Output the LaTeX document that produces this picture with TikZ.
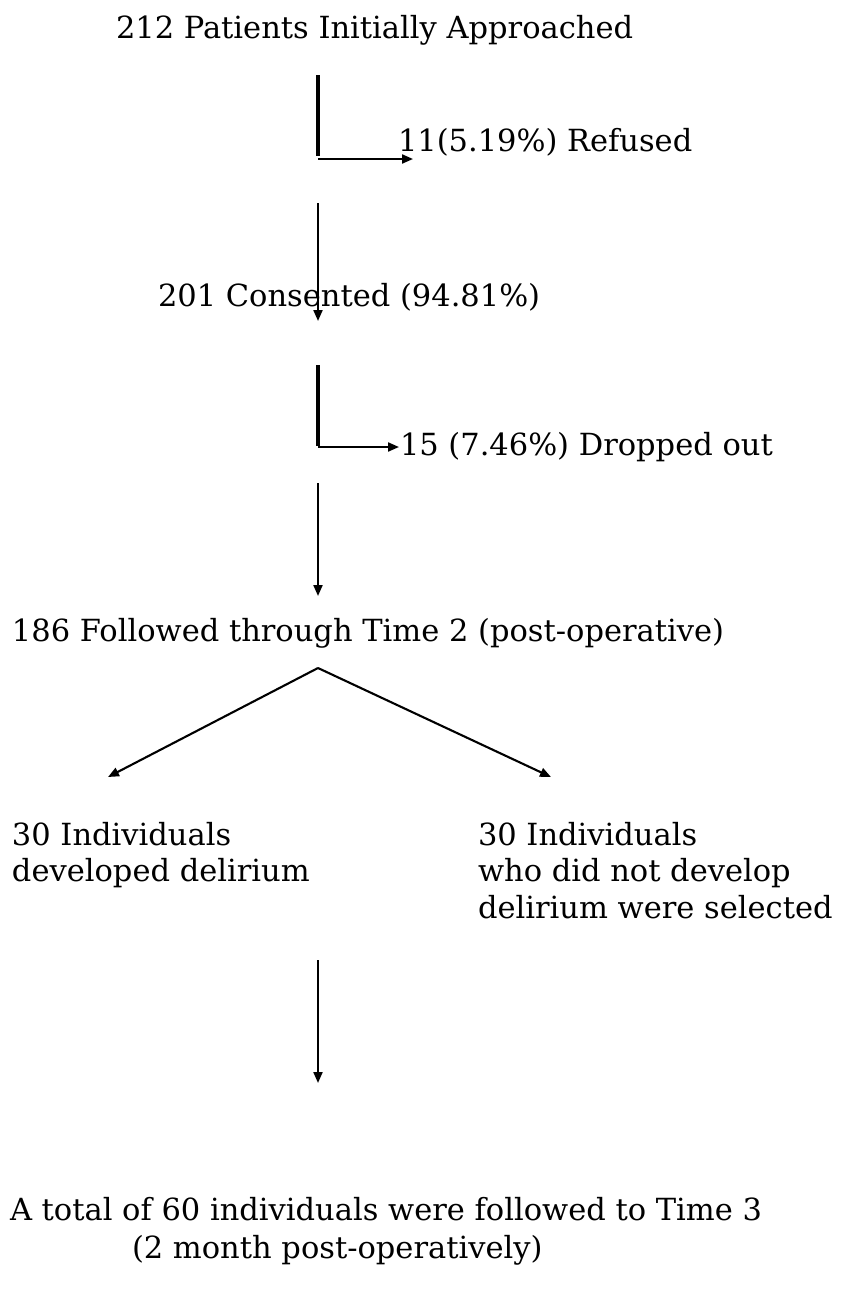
\documentclass[tikz,border=0pt]{standalone}
\usepackage{fontspec}
\setmainfont{DejaVu Serif}
\usetikzlibrary{arrows.meta}
\begin{document}
\begin{tikzpicture}[x=1pt,y=-1pt,
  lbl/.style={anchor=base west,inner sep=0pt,outer sep=0pt,font=\fontsize{30.5}{36.5}\selectfont},
  stem/.style={line width=3.2pt},
  arr/.style={line width=2.1pt,-{Triangle[length=11pt,width=9pt]}}]
\useasboundingbox (0,0) rectangle (847,1293);
% texts
\node[lbl] (t1) at (116,38) {212 Patients Initially Approached};
\node[lbl] (ref) at (398,151) {11(5.19\%) Refused};
\node[lbl] (con) at (158,306) {201 Consented (94.81\%)};
\node[lbl] (drop) at (400,455) {15 (7.46\%) Dropped out};
\node[lbl] (fol) at (12,641) {186 Followed through Time 2 (post-operative)};
\node[lbl] (del) at (12,845) {\begin{tabular}[t]{@{}l@{}}30 Individuals\\developed delirium\end{tabular}};
\node[lbl] (nodel) at (478,845) {\begin{tabular}[t]{@{}l@{}}30 Individuals\\who did not develop\\delirium were selected\end{tabular}};
\node[lbl] (tot1) at (10,1220) {A total of 60 individuals were followed to Time 3};
\node[lbl] (tot2) at (132,1258) {(2 month post-operatively)};
% connector points
\coordinate (s1a) at (318,75);
\coordinate (s1b) at (318,156);
\coordinate (h1) at (318,159);
\coordinate (h1e) at (413,159);
\coordinate (v2a) at (318,203);
\coordinate (v2b) at (318,321);
\coordinate (s2a) at (318,365);
\coordinate (s2b) at (318,446);
\coordinate (h2) at (318,447);
\coordinate (h2e) at (399,447);
\coordinate (v3a) at (318,483);
\coordinate (v3b) at (318,596);
\coordinate (apex) at (318,668);
\coordinate (dl) at (108,777);
\coordinate (dr) at (551,777);
\coordinate (v4a) at (318,960);
\coordinate (v4b) at (318,1083);
% connectors
\draw[stem] (s1a) -- (s1b);
\draw[arr] (h1) -- (h1e);
\draw[arr] (v2a) -- (v2b);
\draw[stem] (s2a) -- (s2b);
\draw[arr] (h2) -- (h2e);
\draw[arr] (v3a) -- (v3b);
\draw[arr] (apex) -- (dl);
\draw[arr] (apex) -- (dr);
\draw[arr] (v4a) -- (v4b);
\end{tikzpicture}
\end{document}
